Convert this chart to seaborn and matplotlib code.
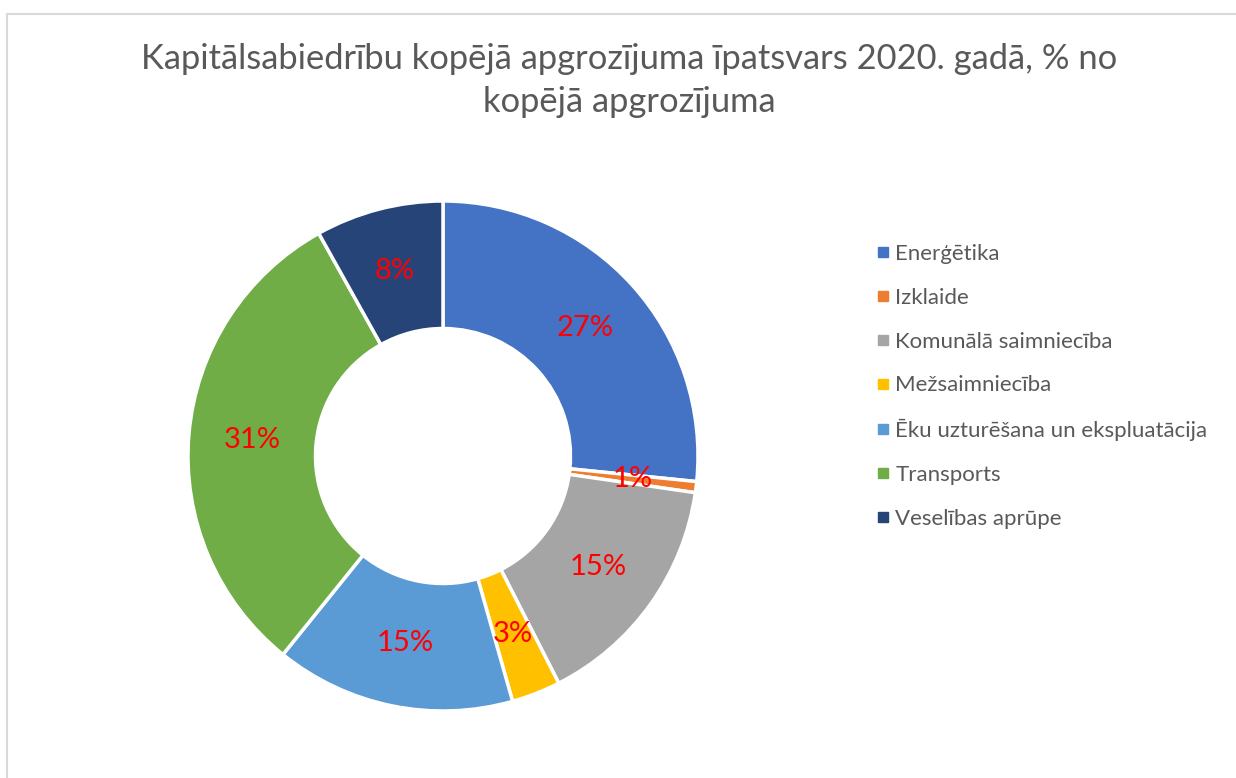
import matplotlib.pyplot as plt
import seaborn as sns
from matplotlib.lines import Line2D

sns.set_theme(style="white")
plt.rcParams["font.family"] = ["Lato", "DejaVu Sans"]

# Data
categories = [
    "Enerģētika",
    "Izklaide",
    "Komunālā saimniecība",
    "Mežsaimniecība",
    "Ēku uzturēšana un ekspluatācija",
    "Transports",
    "Veselības aprūpe",
]
shares = [26.6, 0.7, 15.2, 3.1, 15.2, 31.1, 8.1]
colors = sns.color_palette(
    ["#4472C4", "#ED7D31", "#A5A5A5", "#FFC000", "#5B9BD5", "#70AD47", "#264478"]
)

fig = plt.figure(figsize=(12.36, 7.78), dpi=100)
fig.patch.set_facecolor("white")

# Excel-like chart border
fig.add_artist(Line2D([7 / 1236, 1], [1 - 14 / 778, 1 - 14 / 778], color="#d9d9d9", lw=1.5))
fig.add_artist(Line2D([7 / 1236, 7 / 1236], [0, 1 - 14 / 778], color="#d9d9d9", lw=1.5))

ax = fig.add_axes([188 / 1236, 67 / 778, 510 / 1236, 510 / 778])
wedges, texts, autotexts = ax.pie(
    shares,
    colors=colors,
    startangle=90,
    counterclock=False,
    radius=1,
    autopct="%.0f%%",
    pctdistance=0.75,
    wedgeprops=dict(width=0.5, edgecolor="white", linewidth=2.5),
    textprops=dict(color="red", fontsize=21),
)
ax.set_xlim(-1, 1)
ax.set_ylim(-1, 1)
ax.set_aspect("equal")
ax.axis("off")

fig.text(
    629 / 1236,
    1 - 43 / 778,
    "Kapitālsabiedrību kopējā apgrozījuma īpatsvars 2020. gadā, % no\nkopējā apgrozījuma",
    ha="center",
    va="top",
    fontsize=24.8,
    color="#595959",
    linespacing=1.42,
)

handles = [
    Line2D([], [], marker="s", linestyle="none", markersize=7, markerfacecolor=c, markeredgecolor=c)
    for c in colors
]
leg = fig.legend(
    handles,
    categories,
    loc="upper left",
    bbox_to_anchor=(852 / 1236, 1 - 224 / 778),
    frameon=False,
    fontsize=16,
    labelspacing=1.07,
    handletextpad=0.05,
    handlelength=1.0,
)
for t in leg.get_texts():
    t.set_color("#595959")

fig.savefig("out.png", dpi=100, facecolor="white")
